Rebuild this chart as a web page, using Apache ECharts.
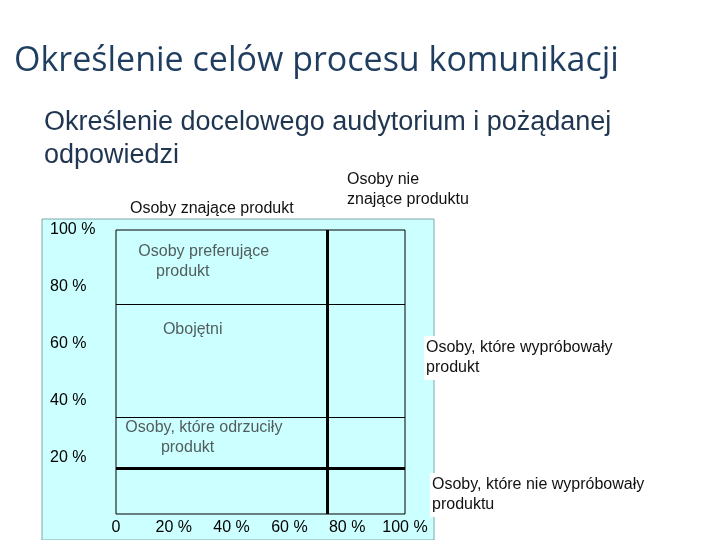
<!DOCTYPE html>
<html><head><meta charset="utf-8">
<script src="https://cdn.jsdelivr.net/npm/echarts@6/dist/echarts.min.js"></script>
<style>html,body{margin:0;padding:0;background:#fff}#c{width:720px;height:540px}</style>
</head><body><div id="c"></div>
<script>
const xTicks = ['0', '20 %', '40 %', '60 %', '80 %', '100 %'];
const yTicks = ['0', '20 %', '40 %', '60 %', '80 %', '100 %'];
const verticalSplit = 73;          // share of people who know the product
const horizontalThin = [74, 34];   // preferring / indifferent / rejecting
const horizontalThick = 16;        // tried vs not tried
const regionLabels = [
  {name: 'Osoby preferujące\n    produkt', x: 6, y: 89},
  {name: 'Obojętni', x: 14.5, y: 65},
  {name: 'Osoby, które odrzuciły\n        produkt', x: 1.5, y: 27}
];

const chart = echarts.init(document.getElementById('c'));
const txt = (x, y, s, o) => Object.assign({type: 'text', left: x, top: y, style: Object.assign({text: s, fontFamily: 'Liberation Sans', fontSize: 16, fill: '#111', lineHeight: 20}, o || {})});
chart.setOption({
  animation: false,
  grid: {left: 116, right: 315, top: 230, bottom: 26, show: true, borderColor: '#000', borderWidth: 1, backgroundColor: '#ccffff'},
  xAxis: {type: 'value', min: 0, max: 100, interval: 20, splitLine: {show: false}, axisLine: {show: false}, axisTick: {show: false},
    axisLabel: {formatter: v => xTicks[v / 20], fontFamily: 'Liberation Sans', fontSize: 16, color: '#000', margin: 6}},
  yAxis: {type: 'value', min: 0, max: 100, interval: 20, splitLine: {show: false}, axisLine: {show: false}, axisTick: {show: false},
    axisLabel: {formatter: v => v === 0 ? '' : yTicks[v / 20], align: 'left', margin: 66, fontFamily: 'Liberation Sans', fontSize: 16, color: '#000'}},
  graphic: [
    {type: 'rect', z: -10, shape: {x: 42, y: 219, width: 392, height: 321}, style: {fill: '#ccffff', stroke: '#7fa8a8', lineWidth: 1}},
    {type: 'text', left: 14, top: 44, style: {text: 'Określenie celów procesu komunikacji', fontFamily: 'Open Sans', fontSize: 34, fill: '#1f3d5f'}},
    {type: 'text', left: 44, top: 106, style: {text: 'Określenie docelowego audytorium i pożądanej\nodpowiedzi', fontFamily: 'Liberation Sans', fontSize: 27, lineHeight: 33, fill: '#1f3550'}},
    txt(130, 199, 'Osoby znające produkt'),
    txt(347, 170, 'Osoby nie\nznające produktu'),
    txt(424, 336, 'Osoby, które wypróbowały\nprodukt', {backgroundColor: '#fff', padding: [2, 2]}),
    txt(430, 473, 'Osoby, które nie wypróbowały\nproduktu', {backgroundColor: '#fff', padding: [2, 2]})
  ],
  series: [{
    type: 'scatter', data: regionLabels.map(d => [d.x, d.y, d.name]), symbolSize: 0,
    label: {show: true, position: 'right', formatter: p => p.data[2], fontFamily: 'Liberation Sans', fontSize: 16, color: '#333', lineHeight: 20},
    markLine: {silent: true, symbol: 'none', label: {show: false},
      data: [
        {xAxis: verticalSplit, lineStyle: {color: '#000', width: 3, type: 'solid'}},
        ...horizontalThin.map(v => ({yAxis: v, lineStyle: {color: '#000', width: 1, type: 'solid'}})),
        {yAxis: horizontalThick, lineStyle: {color: '#000', width: 3, type: 'solid'}}
      ]}
  }]
});
</script></body></html>
